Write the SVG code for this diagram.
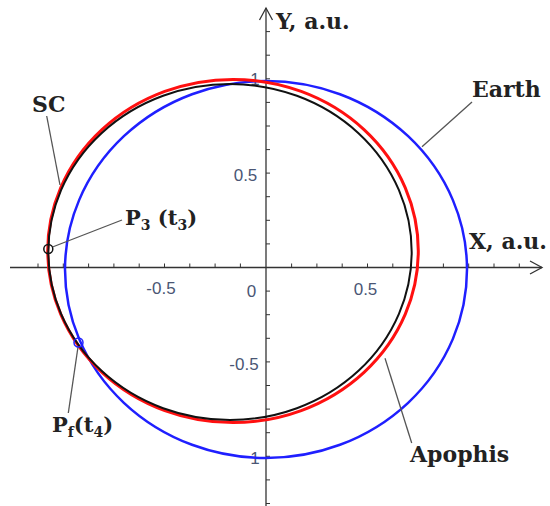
<svg xmlns="http://www.w3.org/2000/svg" width="550" height="506" viewBox="0 0 550 506">
<style>
.ax{stroke:#333;stroke-width:1.3;fill:none}
.tk{stroke:#333;stroke-width:1}
.num{font-family:"Liberation Sans",Arial,sans-serif;font-size:17px;fill:#4a5674;text-anchor:middle}
.lbl{font-family:"DejaVu Serif","Liberation Serif",serif;font-weight:bold;font-size:22px;fill:#222}
.pl{font-size:21px}
.sub{font-size:14px}
.lead{stroke:#555;stroke-width:1.3;fill:none}
.orb{fill:none}
</style>
<rect width="550" height="506" fill="#fff"/>
<g id="axes">
<line class="ax" x1="10" y1="267.5" x2="542" y2="267.5"/>
<polyline class="ax" points="530,261 542,267.5 530,274"/>
<line class="ax" x1="266" y1="506" x2="266" y2="8"/>
<polyline class="ax" points="259.5,20 266,8 272.5,20"/>
<path class="tk" d="M38,267.5v-4M63.3,267.5v-4M88.6,267.5v-4M113.9,267.5v-4M139.2,267.5v-4M164.5,267.5v-4M189.8,267.5v-4M215.1,267.5v-4M240.4,267.5v-4M291.6,267.5v-4M316.9,267.5v-4M342.2,267.5v-4M367.5,267.5v-4M392.8,267.5v-4M418.1,267.5v-4M443.4,267.5v-4M468.7,267.5v-4M494,267.5v-4M519.3,267.5v-4"/>
<path class="tk" d="M266,31.6h4M266,55.2h4M266,78.8h4M266,102.4h4M266,126h4M266,149.6h4M266,173.1h4M266,196.7h4M266,220.3h4M266,243.9h4M266,291.1h4M266,314.7h4M266,338.3h4M266,361.9h4M266,385.5h4M266,409.1h4M266,432.7h4M266,456.3h4M266,479.9h4M266,503.5h4"/>
<text class="num" x="161" y="294">-0.5</text>
<text class="num" x="251.5" y="297">0</text>
<text class="num" x="365.5" y="295">0.5</text>
<text class="num" x="245.5" y="181">0.5</text>
<text class="num" x="244" y="370">-0.5</text>
<text class="num" x="255" y="85">1</text>
<text class="num" x="255" y="464">1</text>
<text class="lbl" x="276" y="29">Y, a.u.</text>
<text class="lbl" x="469" y="249">X, a.u.</text>
</g>
<g id="earth"><ellipse class="orb" cx="266" cy="269.5" rx="201" ry="188.5" stroke="#1f1fff" stroke-width="2.5"/></g>
<g id="apophis"><ellipse class="orb" cx="233" cy="251" rx="185.3" ry="171.6" stroke="#ff1010" stroke-width="3"/></g>
<g id="sc"><ellipse class="orb" cx="230" cy="252" rx="181.7" ry="168" stroke="#111" stroke-width="2"/></g>
<g id="connectors">
<line class="lead" x1="46.7" y1="116" x2="60" y2="185"/>
<line class="lead" x1="122" y1="220" x2="52.5" y2="247"/>
<line class="lead" x1="472" y1="102" x2="422" y2="146.7"/>
<line class="lead" x1="78" y1="347" x2="68.3" y2="413"/>
<line class="lead" x1="385" y1="358.3" x2="411.7" y2="443"/>
</g>
<g id="p3"><circle cx="48.3" cy="249" r="4.5" fill="none" stroke="#111" stroke-width="1.5"/>
<text class="lbl pl" x="125" y="225">P<tspan class="sub" dy="5">3</tspan><tspan dy="-5"> (t</tspan><tspan class="sub" dy="5">3</tspan><tspan dy="-5">)</tspan></text></g>
<g id="pf"><circle cx="78.5" cy="342.5" r="4.5" fill="none" stroke="#1f1fff" stroke-width="1.5"/>
<text class="lbl pl" x="52" y="432">P<tspan class="sub" dy="5">f</tspan><tspan dy="-5">(t</tspan><tspan class="sub" dy="5">4</tspan><tspan dy="-5">)</tspan></text></g>
<g id="lbl-sc"><text class="lbl" x="32" y="112">SC</text></g>
<g id="lbl-earth"><text class="lbl" x="472" y="97">Earth</text></g>
<g id="lbl-apophis"><text class="lbl" x="410" y="462">Apophis</text></g>
</svg>
